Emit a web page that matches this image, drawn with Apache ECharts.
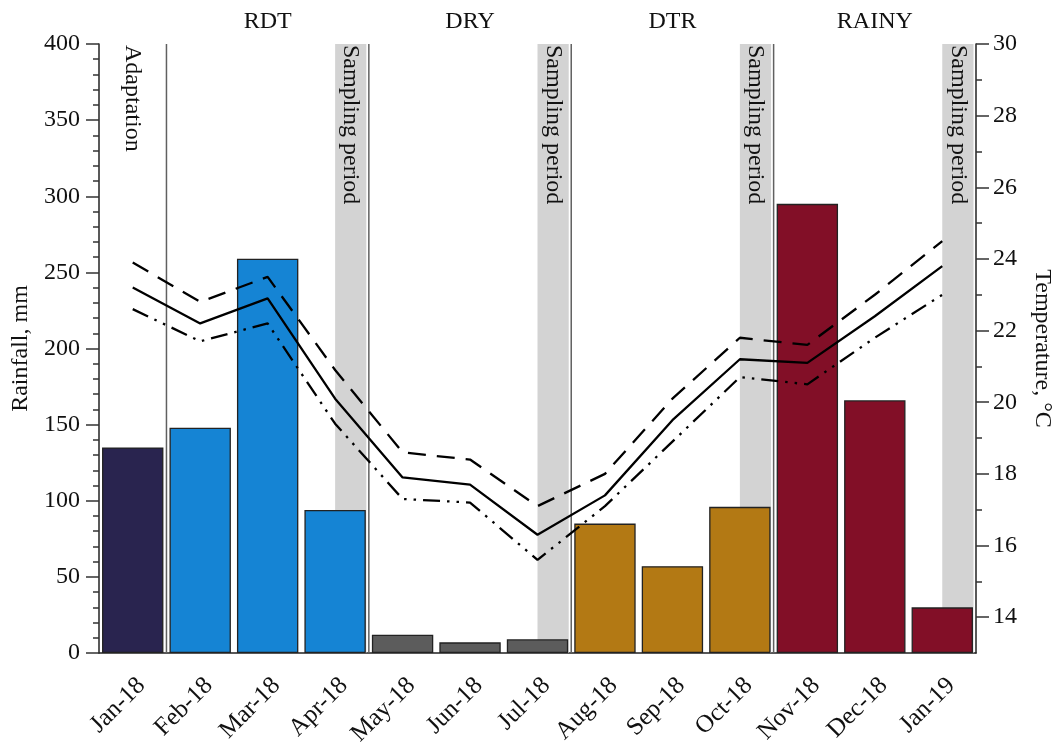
<!DOCTYPE html>
<html>
<head>
<meta charset="utf-8">
<script src="https://cdn.jsdelivr.net/npm/echarts@6/dist/echarts.min.js"></script>
<style>
  html, body { margin: 0; padding: 0; background: #fff; }
  #chart { width: 1057px; height: 744px; }
</style>
</head>
<body>
<div id="chart"></div>
<script>
// Monthly rainfall (bars) and air temperature (lines), Jan 2018 – Jan 2019
const months = ['Jan-18', 'Feb-18', 'Mar-18', 'Apr-18', 'May-18', 'Jun-18', 'Jul-18',
                'Aug-18', 'Sep-18', 'Oct-18', 'Nov-18', 'Dec-18', 'Jan-19'];
const rainfall = [135, 148, 259, 94, 12, 7, 9, 85, 57, 96, 295, 166, 30];
const tempMax  = [23.9, 22.8, 23.5, 20.9, 18.6, 18.4, 17.1, 18.0, 20.1, 21.8, 21.6, 23.0, 24.5];
const tempMean = [23.2, 22.2, 22.9, 20.1, 17.9, 17.7, 16.3, 17.4, 19.5, 21.2, 21.1, 22.4, 23.8];
const tempMin  = [22.6, 21.7, 22.2, 19.4, 17.3, 17.2, 15.6, 17.1, 18.9, 20.7, 20.5, 21.8, 23.0];

// Experimental periods
const adaptationMonth = 'Jan-18';
const periodNames = ['RDT', 'DRY', 'DTR', 'RAINY'];
const periodFirst = ['Feb-18', 'May-18', 'Aug-18', 'Nov-18'];
const periodLast  = ['Apr-18', 'Jul-18', 'Oct-18', 'Jan-19'];

// Axis ticks
const rainTickStep = 50;
const tempMajorTicks = [14, 16, 18, 20, 22, 24, 26, 28, 30];
const tempMinorTicks = [15, 17, 19, 21, 23, 25, 27, 29];

// Styling
const FONT = '"Liberation Serif", "Times New Roman", serif';
const FS = 24;
const periodColors = { ADAPT: '#29244f', RDT: '#1584d4', DRY: '#5c5c5c', DTR: '#b37914', RAINY: '#820f27' };

function periodOf(m) {
  const idx = months.indexOf(m);
  for (let i = 0; i < periodNames.length; i++) {
    if (idx >= months.indexOf(periodFirst[i]) && idx <= months.indexOf(periodLast[i])) return periodNames[i];
  }
  return 'ADAPT';
}

const barData = rainfall.map((v, i) => ({
  value: v,
  itemStyle: { color: periodColors[periodOf(months[i])] }
}));

const periodData = periodNames.map((n, i) => [
  months.indexOf(periodFirst[i]),
  months.indexOf(periodLast[i]) + 1,
  n
]);

function renderPeriod(params, api) {
  const s = api.value(0), e = api.value(1);
  const name = periodNames[params.dataIndex];
  const top = api.coord([s, 400])[1];
  const bottom = api.coord([s, 0])[1];
  const xs = api.coord([s, 0])[0];
  const xe = api.coord([e, 0])[0];
  const xc = api.coord([e - 0.5, 0])[0];
  const children = [
    { type: 'rect', shape: { x: xc, y: top, width: xe - xc - 2.5, height: bottom - top },
      style: { fill: '#d3d3d3' } },
    { type: 'line', shape: { x1: xs, y1: top, x2: xs, y2: bottom },
      style: { stroke: '#606060', lineWidth: 1.5 } },
    { type: 'text', x: (xs + xe) / 2, y: top - 22,
      style: { text: name, font: FS + 'px ' + FONT, fill: '#111', textAlign: 'center', textVerticalAlign: 'middle' } },
    { type: 'text', x: (xc + xe - 2.5) / 2, y: top + 1, rotation: -Math.PI / 2,
      style: { text: 'Sampling period', font: FS + 'px ' + FONT, fill: '#111', textAlign: 'left', textVerticalAlign: 'middle' } }
  ];
  if (params.dataIndex === 0) {
    const ai = months.indexOf(adaptationMonth);
    children.push({ type: 'text', x: api.coord([ai + 0.5, 0])[0], y: top + 1, rotation: -Math.PI / 2,
      style: { text: 'Adaptation', font: FS + 'px ' + FONT, fill: '#111', textAlign: 'left', textVerticalAlign: 'middle' } });
  }
  return { type: 'group', children: children };
}

const chart = echarts.init(document.getElementById('chart'), null, { renderer: 'canvas' });
const axisTextStyle = { fontFamily: FONT, fontSize: FS, color: '#111' };

chart.setOption({
  animation: false,
  backgroundColor: '#fff',
  grid: { left: 99, right: 81, top: 44, bottom: 91, outerBoundsMode: 'none' },
  xAxis: [
    {
      type: 'category', data: months, boundaryGap: true,
      axisLine: { lineStyle: { color: '#222', width: 1.5 } },
      axisTick: { alignWithLabel: true, length: 15, lineStyle: { color: '#333', width: 1.5 } },
      axisLabel: { rotate: 45, margin: 20, interval: 0, fontFamily: FONT, fontSize: 25, color: '#111',
                   align: 'right', verticalAlign: 'top' },
      splitLine: { show: false }
    },
    { type: 'value', min: 0, max: months.length, show: false, gridIndex: 0 }
  ],
  yAxis: [
    {
      type: 'value', min: 0, max: 400, interval: rainTickStep, position: 'left',
      name: 'Rainfall, mm', nameLocation: 'middle', nameGap: 62,
      nameTextStyle: { fontFamily: FONT, fontSize: FS, color: '#111' },
      axisLine: { show: true, lineStyle: { color: '#222', width: 1.5 } },
      axisTick: { show: true, length: 13, lineStyle: { color: '#333', width: 1.5 } },
      minorTick: { show: true, splitNumber: 5, length: 6, lineStyle: { color: '#333', width: 1.5 } },
      axisLabel: Object.assign({ margin: 19 }, axisTextStyle),
      splitLine: { show: false }, minorSplitLine: { show: false }
    },
    {
      type: 'value', min: 13, max: 30, position: 'right',
      name: 'Temperature, °C', nameLocation: 'middle', nameGap: 54, nameRotate: -90,
      nameTextStyle: { fontFamily: FONT, fontSize: FS, color: '#111' },
      axisLine: { show: true, lineStyle: { color: '#222', width: 1.5 } },
      axisTick: { show: true, length: 13, customValues: tempMajorTicks, lineStyle: { color: '#333', width: 1.5 } },
      axisLabel: Object.assign({ margin: 17, customValues: tempMajorTicks }, axisTextStyle),
      splitLine: { show: false }
    },
    {
      type: 'value', min: 13, max: 30, position: 'right',
      axisLine: { show: false },
      axisTick: { show: true, length: 6, customValues: tempMinorTicks, lineStyle: { color: '#333', width: 1.5 } },
      axisLabel: { show: false },
      splitLine: { show: false }
    }
  ],
  series: [
    {
      type: 'custom', xAxisIndex: 1, yAxisIndex: 0, z: 1, silent: true,
      renderItem: renderPeriod, data: periodData
    },
    {
      type: 'bar', xAxisIndex: 0, yAxisIndex: 0, z: 2, data: barData,
      barCategoryGap: '9%',
      itemStyle: { borderColor: '#222', borderWidth: 1.3 }
    },
    {
      type: 'line', xAxisIndex: 0, yAxisIndex: 1, z: 3, data: tempMax,
      showSymbol: false, symbol: 'none',
      lineStyle: { color: '#000', width: 2.3, type: [18, 11] }
    },
    {
      type: 'line', xAxisIndex: 0, yAxisIndex: 1, z: 3, data: tempMean,
      showSymbol: false, symbol: 'none',
      lineStyle: { color: '#000', width: 2.3, type: 'solid' }
    },
    {
      type: 'line', xAxisIndex: 0, yAxisIndex: 1, z: 3, data: tempMin,
      showSymbol: false, symbol: 'none',
      lineStyle: { color: '#000', width: 2.3, type: [17, 7, 2.5, 7, 2.5, 7] }
    }
  ]
});
</script>
</body>
</html>
